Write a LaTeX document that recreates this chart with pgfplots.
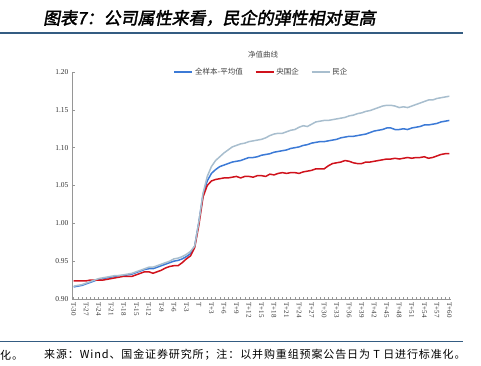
\documentclass[border=0pt]{standalone}
\usepackage{pgfplots}
\pgfplotsset{compat=1.18}
\usepackage{pgfplotstable}
\usepackage{fontspec}
\setmainfont{Liberation Serif}
\newfontfamily\cjk{Noto Sans CJK SC}
\newfontfamily\cjkfoot[LetterSpace=8]{Noto Sans CJK SC}
\newfontfamily\cjktitle[FakeSlant=0.18,FakeBold=2]{Noto Sans CJK SC}
\definecolor{titleblue}{RGB}{52,92,130}
\definecolor{sblue}{RGB}{60,122,214}
\definecolor{sred}{RGB}{208,18,28}
\definecolor{sgray}{RGB}{168,190,206}
\definecolor{axgray}{RGB}{150,150,150}

\pgfplotstableread{
x r b g
-30 0.924 0.916 0.917
-29 0.924 0.917 0.918
-28 0.924 0.918 0.919
-27 0.924 0.920 0.921
-26 0.925 0.922 0.923
-25 0.925 0.924 0.925
-24 0.925 0.926 0.927
-23 0.925 0.927 0.928
-22 0.926 0.928 0.929
-21 0.927 0.929 0.930
-20 0.928 0.930 0.931
-19 0.929 0.931 0.931
-18 0.930 0.931 0.932
-17 0.930 0.932 0.933
-16 0.930 0.933 0.934
-15 0.932 0.935 0.936
-14 0.934 0.937 0.938
-13 0.936 0.939 0.940
-12 0.936 0.940 0.942
-11 0.934 0.940 0.942
-10 0.936 0.942 0.944
-9 0.938 0.944 0.946
-8 0.941 0.946 0.948
-7 0.943 0.948 0.950
-6 0.944 0.950 0.953
-5 0.944 0.951 0.954
-4 0.948 0.953 0.956
-3 0.953 0.956 0.959
-2 0.957 0.960 0.963
-1 0.968 0.970 0.970
0 0.998 1.002 1.002
1 1.035 1.038 1.040
2 1.050 1.056 1.062
3 1.056 1.066 1.075
4 1.058 1.071 1.083
5 1.059 1.075 1.088
6 1.060 1.077 1.093
7 1.060 1.079 1.097
8 1.061 1.081 1.101
9 1.062 1.082 1.103
10 1.060 1.083 1.105
11 1.062 1.085 1.106
12 1.062 1.087 1.108
13 1.061 1.087 1.109
14 1.063 1.088 1.110
15 1.063 1.090 1.111
16 1.062 1.091 1.113
17 1.065 1.092 1.116
18 1.064 1.094 1.118
19 1.066 1.095 1.119
20 1.067 1.096 1.119
21 1.066 1.097 1.121
22 1.067 1.099 1.123
23 1.067 1.100 1.124
24 1.066 1.101 1.127
25 1.068 1.103 1.129
26 1.069 1.104 1.128
27 1.070 1.106 1.131
28 1.072 1.107 1.134
29 1.072 1.108 1.135
30 1.072 1.108 1.136
31 1.076 1.109 1.136
32 1.079 1.110 1.137
33 1.080 1.111 1.138
34 1.081 1.113 1.139
35 1.083 1.114 1.140
36 1.082 1.115 1.142
37 1.080 1.115 1.143
38 1.079 1.116 1.145
39 1.079 1.117 1.146
40 1.081 1.118 1.148
41 1.081 1.120 1.149
42 1.082 1.122 1.151
43 1.083 1.123 1.153
44 1.084 1.124 1.155
45 1.085 1.126 1.156
46 1.085 1.126 1.156
47 1.086 1.124 1.155
48 1.085 1.124 1.153
49 1.086 1.125 1.154
50 1.087 1.124 1.153
51 1.086 1.126 1.155
52 1.087 1.127 1.157
53 1.087 1.128 1.159
54 1.088 1.130 1.161
55 1.086 1.130 1.163
56 1.087 1.131 1.163
57 1.089 1.132 1.165
58 1.091 1.134 1.166
59 1.092 1.135 1.167
60 1.092 1.136 1.168
}\datatable

\begin{document}
\begin{tikzpicture}
\path[use as bounding box] (0pt,0pt) rectangle (481pt,-366pt);
% header
\node[anchor=west,inner sep=0pt] at (43pt,-18pt) {\cjktitle\fontsize{17}{17}\selectfont 图表7：公司属性来看，民企的弹性相对更高};
\draw[titleblue,line width=1.3pt] (0pt,-33pt) -- (463pt,-33pt);
\node[inner sep=0pt,text=black!70] at (263pt,-55pt) {\cjk\fontsize{7.5}{7.5}\selectfont 净值曲线};
% footer
\draw[titleblue,line width=1.3pt] (0pt,-341.5pt) -- (463pt,-341.5pt);
\node[anchor=west,inner sep=0pt] at (0pt,-355pt) {\cjkfoot\fontsize{11}{11}\selectfont 化。};
\node[anchor=west,inner sep=0pt] at (44pt,-355pt) {\cjkfoot\fontsize{11}{11}\selectfont 来源：Wind、国金证券研究所；注：以并购重组预案公告日为 T 日进行标准化。};

\begin{axis}[
  at={(72pt,-299pt)}, anchor=south west,
  scale only axis, width=379pt, height=227pt,
  xmin=-30.4, xmax=60.4, ymin=0.90, ymax=1.20,
  axis x line*=bottom, axis y line*=left,
  axis line style={draw=axgray, line width=0.6pt, -},
  ytick={0.90,0.95,1.00,1.05,1.10,1.15,1.20},
  yticklabel style={font=\fontsize{7.5}{8}\selectfont, text=black!80,
    /pgf/number format/.cd, fixed, fixed zerofill, precision=2, assume math mode=true},
  xtick={-30,-27,...,60},
  xticklabels={T-30,T-27,T-24,T-21,T-18,T-15,T-12,T-9,T-6,T-3,T,T+3,T+6,T+9,T+12,T+15,T+18,T+21,T+24,T+27,T+30,T+33,T+36,T+39,T+42,T+45,T+48,T+51,T+54,T+57,T+60},
  minor xtick={-30,...,60},
  xticklabel style={rotate=-90, anchor=west, font=\fontsize{7}{7}\selectfont, text=black!80},
  tick align=inside, major tick length=2.5pt, minor tick length=2.5pt,
  every tick/.style={axgray, line width=0.5pt},
  legend style={at={(0.5,1)}, anchor=center, draw=none, fill=none,
    legend columns=3, font=\cjk\fontsize{7.5}{8}\selectfont, text=black!75,
    /tikz/every even column/.append style={column sep=10pt}},
  legend image code/.code={\draw[#1] (0pt,0pt) -- (18pt,0pt);},
  clip=false
]
\addplot[sblue, line width=1.5pt] table[x=x,y=b]{\datatable};
\addlegendentry{全样本-平均值}
\addplot[sred, line width=1.5pt] table[x=x,y=r]{\datatable};
\addlegendentry{央国企}
\addplot[sgray, line width=1.5pt] table[x=x,y=g]{\datatable};
\addlegendentry{民企}
\end{axis}
\end{tikzpicture}
\end{document}
